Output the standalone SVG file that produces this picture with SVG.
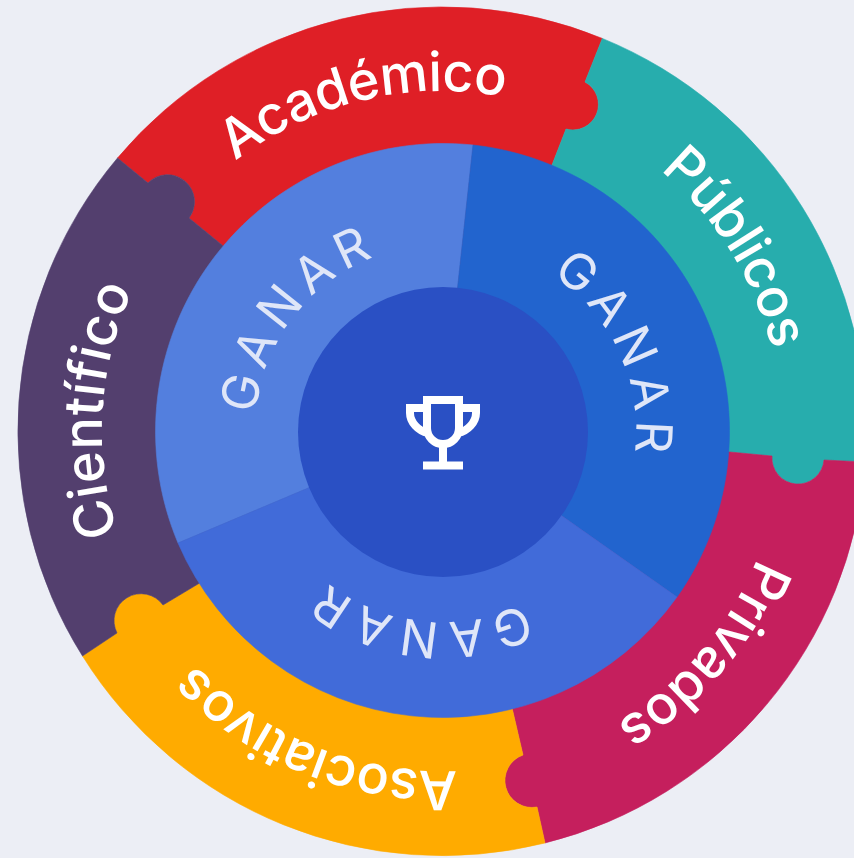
<svg xmlns="http://www.w3.org/2000/svg" width="854" height="858" viewBox="0 0 854 858">
<defs>
<path id="arcOuter" d="M0,340 A340,340 0 1 1 0,-340 A340,340 0 1 1 -0.01,340"/>
<path id="arcInner" d="M0,187 A187,187 0 1 1 0,-187 A187,187 0 1 1 -0.01,187"/>
</defs>
<style>
.seg{stroke-width:.6}
.lbl{font-family:"Inter","Liberation Sans",sans-serif;font-size:54px;font-weight:550;fill:#fff;text-anchor:middle;letter-spacing:-.7px}
.gan{font-family:"Inter","Liberation Sans",sans-serif;font-size:50px;font-weight:400;fill:#dfe6f8;text-anchor:middle;letter-spacing:8px}
.tr{fill:none;stroke:#fff;stroke-width:8}
</style>
<rect width="854" height="858" fill="#eceef5"/>
<g id="academico">
<path class="seg" fill="#df1f26" stroke="#df1f26" d="M117.500,158 A424,424 0 0 1 602.300,38.400 L585,82 A25.500,25.500 0 0 1 566,129 L552,165 L442,431 L222,245 L189,218 A27,27 0 0 0 148,183 Z"/>
<g transform="translate(442,431) rotate(-13.5)"><text class="lbl"><textPath href="#arcOuter" startOffset="50%">Académico</textPath></text></g>
</g>
<g id="publicos">
<path class="seg" fill="#27adad" stroke="#27adad" d="M602.300,38.400 A424,424 0 0 1 865,462 L824,460 A26,26 0 0 1 772,456 L730,452 L442,431 L552,165 L566,129 A25.500,25.500 0 0 0 585,82 Z"/>
<g transform="translate(442,431) rotate(58)"><text class="lbl"><textPath href="#arcOuter" startOffset="50%">Públicos</textPath></text></g>
</g>
<g id="privados">
<path class="seg" fill="#c51f5d" stroke="#c51f5d" d="M865,462 A424,424 0 0 1 545,843 L537,807 A27,27 0 0 1 523,755 L513,712 L442,431 L730,452 L772,456 A26,26 0 0 0 824,460 Z"/>
<g transform="translate(442,431) rotate(130.5)"><text class="lbl"><textPath href="#arcOuter" startOffset="50%">Privados</textPath></text></g>
</g>
<g id="asociativos">
<path class="seg" fill="#ffab00" stroke="#ffab00" d="M545,843 A424,424 0 0 1 82.500,656 L117,633 A27,27 0 0 1 163,605 L198,584 L442,431 L513,712 L523,755 A27,27 0 0 0 537,807 Z"/>
<g transform="translate(442,431) rotate(202)"><text class="lbl"><textPath href="#arcOuter" startOffset="50%">Asociativos</textPath></text></g>
</g>
<g id="cientifico">
<path class="seg" fill="#533f6e" stroke="#533f6e" d="M82.500,656 A424,424 0 0 1 117.500,158 L148,183 A27,27 0 0 1 189,218 L222,245 L442,431 L198,584 L163,605 A27,27 0 0 0 117,633 Z"/>
<g transform="translate(442,431) rotate(273.5)"><text class="lbl" style="letter-spacing:.3px"><textPath href="#arcOuter" startOffset="50%">Científico</textPath></text></g>
</g>
<g id="ganar-1">
<path class="seg" fill="#537fde" stroke="#537fde" d="M178,543 A288,288 0 0 1 473,145 L442,431.500 Z"/>
<g transform="translate(442,431) rotate(-52)"><text class="gan"><textPath href="#arcInner" startOffset="50%">GANAR</textPath></text></g>
</g>
<g id="ganar-2">
<path class="seg" fill="#2264ce" stroke="#2264ce" d="M473,145 A288,288 0 0 1 677,597 L442,431.500 Z"/>
<g transform="translate(449,431) rotate(66)"><text class="gan"><textPath href="#arcInner" startOffset="50%">GANAR</textPath></text></g>
</g>
<g id="ganar-3">
<path class="seg" fill="#416bd9" stroke="#416bd9" d="M677,597 A288,288 0 0 1 178,543 L442,431.500 Z"/>
<g transform="translate(442,435) rotate(187)"><text class="gan"><textPath href="#arcInner" startOffset="50%">GANAR</textPath></text></g>
</g>
<g id="centro">
<circle cx="443" cy="432" r="145" fill="#2a50c4"/>
<path class="tr" d="M427,400 H459 V428 A16,16 0 0 1 427,428 Z M427,408 H410 V413 C410,422 418,431 428,433 M459,408 H476 V413 C476,422 468,431 458,433 M443,444 V465 M423,465.500 H463"/>
</g>
<g id="connectors"/>
</svg>
